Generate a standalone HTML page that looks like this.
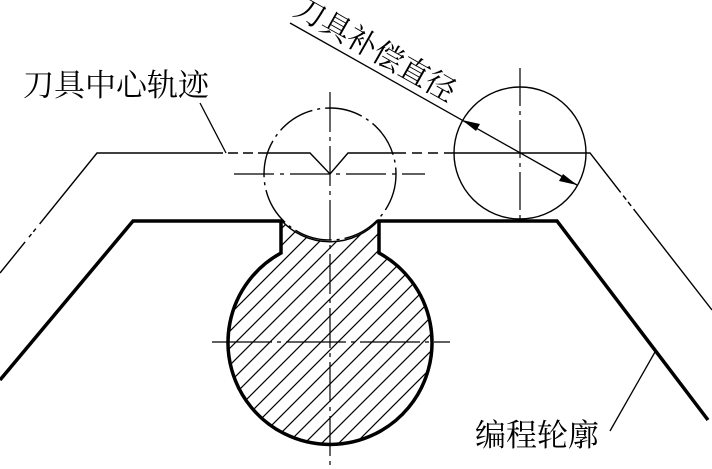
<!DOCTYPE html>
<html><head><meta charset="utf-8"><style>
html,body{margin:0;padding:0;background:#fff;}
svg{display:block;}
text{font-family:"Liberation Serif","Noto Serif CJK SC",serif;fill:#000;}
</style></head><body>
<svg width="712" height="469" viewBox="0 0 712 469" xmlns="http://www.w3.org/2000/svg">
<defs>
<pattern id="h" patternUnits="userSpaceOnUse" width="17" height="17" patternTransform="rotate(0)">
<path d="M-2,19 L19,-2 M-2,2 L2,-2 M15,19 L19,15" stroke="#000" stroke-width="1.2"/>
</pattern>
<clipPath id="c"><path d="M281,253 A102,102 0 1 0 379,253 L379,220 A66,66 0 0 1 281,220 Z"/></clipPath>
</defs>
<g fill="none" stroke="#000">
<!-- hatch -->
<rect x="220" y="200" width="220" height="260" fill="url(#h)" stroke="none" clip-path="url(#c)"/>
<!-- thick profile -->
<path d="M0,380 L133,221 L281,221 L281,253 A102,102 0 1 0 379,253 L379,221 L557,221 L708,420" stroke-width="3.5" stroke-linejoin="miter"/>
<!-- small arc solid part inside -->
<path d="M379,220 A66,66 0 0 1 281,220" stroke-width="1.4"/>
<!-- middle tool circle dash-dot -->
<circle cx="330" cy="174" r="66" stroke-width="1.4" stroke-dasharray="38 5 3 5"/>
<!-- right tool circle -->
<circle cx="520" cy="153" r="66" stroke-width="1.4"/>
<!-- tool path -->
<path d="M0,273 L97,153 L213,153" stroke-width="1.4" stroke-dasharray="0"/>
<path d="M0,273 L97,153" stroke="#fff" stroke-width="3" stroke-dasharray="0 40 6 4 3 4 6 200"/>
<path d="M213,153 L263,153" stroke-width="1.4" stroke-dasharray="10 5"/>
<path d="M263,153 L310,153 L330,174 L348,153 L396,153" stroke-width="1.4"/>
<path d="M396,153 L454,153" stroke-width="1.4" stroke-dasharray="10 6"/>
<path d="M454,153 L590,153 L712,310" stroke-width="1.4"/>
<path d="M590,153 L712,310" stroke="#fff" stroke-width="3" stroke-dasharray="0 50 4 5 3 5 4 200"/>
<!-- center lines -->
<path d="M234,174 L425,174" stroke-width="1.2" stroke-dasharray="40 6 4 6"/>
<path d="M330,92 L330,469" stroke-width="1.2" stroke-dasharray="40 5 4 5"/>
<path d="M212,342 L450,342" stroke-width="1.2" stroke-dasharray="60 5 4 5"/>
<path d="M520,68 L520,224" stroke-width="1.2" stroke-dasharray="38 5 4 5"/>
<!-- dimension line -->
<path d="M290,23 L577,185" stroke-width="1.3"/>
<!-- leaders -->
<path d="M200,103 L226,153" stroke-width="1.3"/>
<path d="M655,352 L610,431" stroke-width="1.3"/>
</g>
<!-- arrowheads -->
<polygon points="462,120 480,124 476,131" fill="#000"/>
<polygon points="577,185 559,181 563,174" fill="#000"/>
<text x="23" y="96" font-size="31">刀具中心轨迹</text>
<text x="475" y="446" font-size="31">编程轮廓</text>
<text transform="translate(292,14) rotate(29.5)" font-size="30">刀具补偿直径</text>
</svg>
</body></html>
